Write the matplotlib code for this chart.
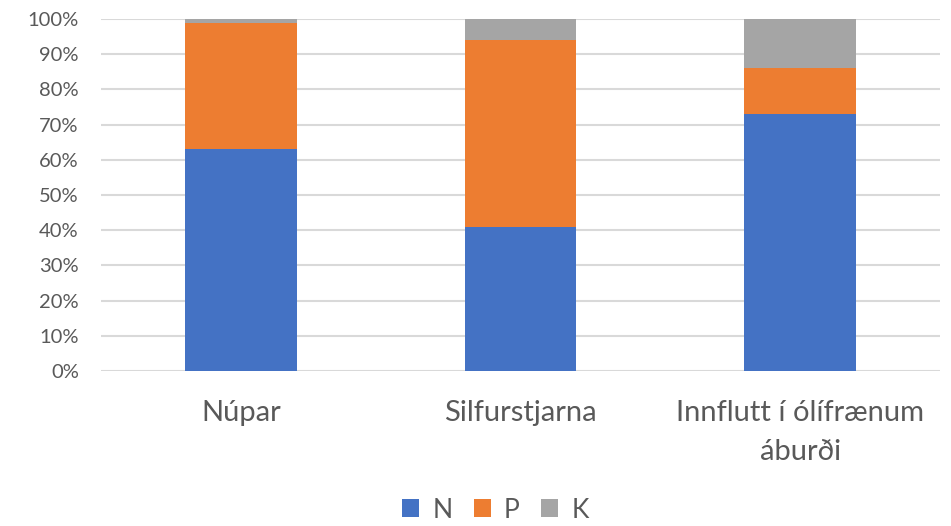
import matplotlib.pyplot as plt
import numpy as np

categories = ['Núpar', 'Silfurstjarna', 'Innflutt í ólífrænum\náburði']
n_share = [63, 41, 73]
p_share = [36, 53, 13]
k_share = [1, 6, 14]

series = [('N', n_share, '#4472C4'), ('P', p_share, '#ED7D31'), ('K', k_share, '#A5A5A5')]

plt.rcParams['font.family'] = ['Lato', 'DejaVu Sans']

fig = plt.figure(figsize=(9.51, 5.26), dpi=100)
ax = fig.add_axes([0.1062, 0.2947, 0.8822, 0.6692])

x = np.arange(len(categories))
bottom = np.zeros(len(categories))
for name, vals, col in series:
    ax.bar(x, vals, 0.4, bottom=bottom, color=col, label=name, zorder=3)
    bottom += np.array(vals)

ax.set_xlim(-0.5, len(categories) - 0.5)
ax.set_ylim(0, 100)
ax.set_yticks(np.arange(0, 101, 10))
ax.set_yticklabels([f'{v}%' for v in range(0, 101, 10)])
ax.set_xticks(x)
ax.set_xticklabels(categories, linespacing=1.6)

ax.grid(axis='y', color='#d9d9d9', linewidth=1.5, zorder=0)
for s in ax.spines.values():
    s.set_visible(False)
ax.tick_params(axis='y', length=0, labelsize=14.5, labelcolor='#595959', pad=16)
ax.tick_params(axis='x', length=0, labelsize=21, labelcolor='#595959', pad=21)

ax.legend(loc='center', bbox_to_anchor=(0.47, -0.395), ncol=3, frameon=False,
          fontsize=19, labelcolor='#595959', handlelength=0.65, handleheight=0.65,
          handletextpad=0.5, columnspacing=0.8, borderpad=0.1)

fig.savefig('out.png', dpi=100)
